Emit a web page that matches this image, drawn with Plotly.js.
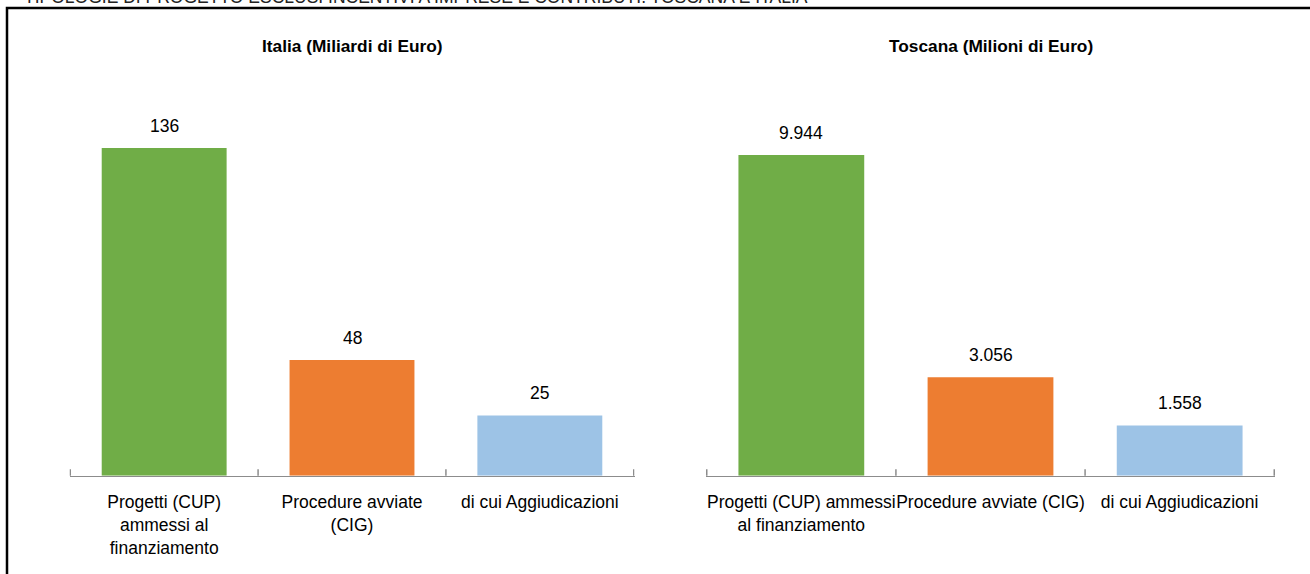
<!DOCTYPE html>
<html>
<head>
<meta charset="utf-8">
<script src="https://cdn.plot.ly/plotly-3.0.1.min.js"></script>
<style>
  html, body { margin: 0; padding: 0; background: #fff; }
  #chart { width: 1310px; height: 574px; }
</style>
</head>
<body>
<div id="chart"></div>
<script>
// ---- data ----
const pageTitle = "TIPOLOGIE DI PROGETTO ESCLUSI INCENTIVI A IMPRESE E CONTRIBUTI. TOSCANA E ITALIA";
const italiaTitle = "Italia (Miliardi di Euro)";
const toscanaTitle = "Toscana (Milioni di Euro)";
const italiaCategories = ["Progetti (CUP)<br>ammessi al<br>finanziamento", "Procedure avviate<br>(CIG)", "di cui Aggiudicazioni"];
const toscanaCategories = ["Progetti (CUP) ammessi<br>al finanziamento", "Procedure avviate (CIG)", "di cui Aggiudicazioni"];
const italiaValues = [136, 48, 25];
const toscanaValues = [9944, 3056, 1558];
const barColors = ["#70AD47", "#ED7D31", "#9DC3E6"];

// ---- styling ----
const FONT = '"Liberation Sans", Arial, sans-serif';
const W = 1310, H = 574;
const px = v => v / W;
const py = v => 1 - v / H;

function fmt(v) {
  return v.toLocaleString('it-IT');
}

const traces = [
  {
    type: 'bar', x: italiaCategories, y: italiaValues,
    marker: { color: barColors }, xaxis: 'x', yaxis: 'y',
    hoverinfo: 'skip', showlegend: false
  },
  {
    type: 'bar', x: toscanaCategories, y: toscanaValues,
    marker: { color: barColors }, xaxis: 'x2', yaxis: 'y2',
    hoverinfo: 'skip', showlegend: false
  }
];

const annotations = [];
italiaCategories.forEach((c, i) => annotations.push({
  xref: 'x', yref: 'y', x: c, y: italiaValues[i], text: fmt(italiaValues[i]),
  showarrow: false, yanchor: 'middle', yshift: 22,
  font: { family: FONT, size: 17.5, color: '#000' }
}));
toscanaCategories.forEach((c, i) => annotations.push({
  xref: 'x2', yref: 'y2', x: c, y: toscanaValues[i], text: fmt(toscanaValues[i]),
  showarrow: false, yanchor: 'middle', yshift: 22,
  font: { family: FONT, size: 17.5, color: '#000' }
}));
annotations.push({
  xref: 'x domain', yref: 'paper', x: 0.5, y: py(46), text: '<b>' + italiaTitle + '</b>',
  showarrow: false, yanchor: 'middle', font: { family: FONT, size: 17.3, color: '#000' }
});
annotations.push({
  xref: 'x2 domain', yref: 'paper', x: 0.5, y: py(46), text: '<b>' + toscanaTitle + '</b>',
  showarrow: false, yanchor: 'middle', font: { family: FONT, size: 17.3, color: '#000' }
});
annotations.push({
  xref: 'paper', yref: 'paper', x: px(22), y: py(9.5), text: pageTitle,
  showarrow: false, xanchor: 'left', yanchor: 'bottom',
  font: { family: FONT, size: 17.5, color: '#222' }
});

const shapes = [];
// frame
shapes.push({
  type: 'rect', xref: 'paper', yref: 'paper',
  x0: px(7), x1: 1.02, y0: py(8), y1: -0.02,
  line: { color: '#000', width: 2.5 }, fillcolor: 'rgba(0,0,0,0)', layer: 'above'
});
// crossing category-boundary ticks
[['x', 'y', italiaCategories], ['x2', 'y2', toscanaCategories]].forEach(([xr, yr, cats]) => {
  for (let i = 0; i <= cats.length; i++) {
    shapes.push({
      type: 'line', xref: xr, yref: yr, ysizemode: 'pixel', yanchor: 0,
      x0: i - 0.5, x1: i - 0.5, y0: -6.5, y1: 6.5,
      line: { color: '#8c8c8c', width: 1.5 }
    });
  }
});

const xCommon = {
  type: 'category', showline: true, linecolor: '#8c8c8c', linewidth: 1.5,
  ticks: '', showgrid: false, zeroline: false, ticklabelstandoff: 10,
  tickangle: 0, automargin: false,
  tickfont: { family: FONT, size: 17.5, color: '#000' }, fixedrange: true
};
const yCommon = {
  showline: false, showgrid: false, zeroline: false, showticklabels: false,
  ticks: '', fixedrange: true
};

const layout = {
  width: W, height: H,
  margin: { l: 0, r: 0, t: 0, b: 0 },
  paper_bgcolor: '#fff', plot_bgcolor: '#fff',
  bargap: 0.335,
  xaxis: Object.assign({}, xCommon, { domain: [px(69.5), px(634.5)], anchor: 'y' }),
  xaxis2: Object.assign({}, xCommon, { domain: [px(706), px(1275)], anchor: 'y2' }),
  yaxis: Object.assign({}, yCommon, { domain: [py(475.7), py(100)], range: [0, 155.9], anchor: 'x' }),
  yaxis2: Object.assign({}, yCommon, { domain: [py(475.7), py(100)], range: [0, 11649], anchor: 'x2' }),
  annotations: annotations,
  shapes: shapes,
  font: { family: FONT, color: '#000' }
};

Plotly.newPlot('chart', traces, layout, { displayModeBar: false, staticPlot: true });
</script>
</body>
</html>
